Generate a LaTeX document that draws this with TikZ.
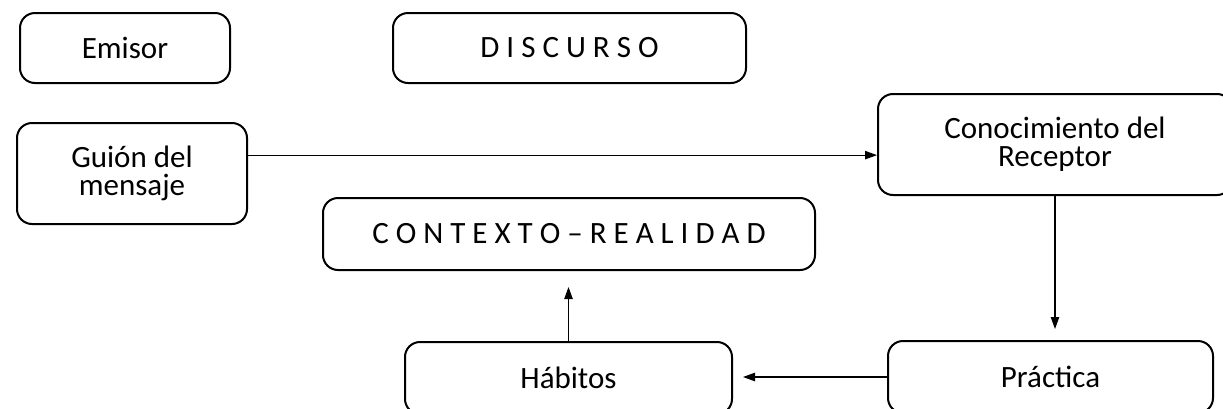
\documentclass[tikz,border=0pt]{standalone}
\usepackage{fontspec}
\setmainfont{Carlito}
\usetikzlibrary{arrows.meta}

\begin{document}
\begin{tikzpicture}[x=0.5pt, y=-0.5pt,
	box/.style={draw, line width=1pt, rounded corners=7.5pt, align=center, inner sep=0pt,
		font=\fontsize{15.5}{14}\selectfont},
	link/.style={line width=0.6pt, -{Triangle[length=6pt, width=4.2pt]}}]
	\useasboundingbox (0,0) rectangle (1223,408);
	\coordinate (pe) at (125,48); \coordinate (pd) at (569.5,48); \coordinate (pg) at (132,173.5);
	\coordinate (pc) at (1055,144.5); \coordinate (px) at (569,234); \coordinate (ph) at (568.5,378); \coordinate (pp) at (1050.5,377);
	\node[box, minimum width=105pt, minimum height=35pt] (emisor) at (pe) {Emisor};
	\node[box, minimum width=176.5pt, minimum height=35pt] (discurso) at (pd) {D I S C U R S O};
	\node[box, minimum width=115pt, minimum height=50.5pt] (guion) at (pg) {Guión del\\mensaje};
	\node[box, minimum width=177pt, minimum height=50.5pt] (conoc) at (pc) {Conocimiento del\\Receptor};
	\node[box, minimum width=246pt, minimum height=36pt] (contexto) at (px) {C O N T E X T O – R E A L I D A D};
	\node[box, minimum width=163.5pt, minimum height=36pt] (habitos) at (ph) {Hábitos};
	\node[box, minimum width=162.5pt, minimum height=36pt] (practica) at (pp) {Práctica};
	\draw[link] (guion.9) -- (guion.9 -| conoc.west);
	\draw[link, shorten >=5.5pt] (conoc.south) -- (conoc.south |- practica.north);
	\draw[link, shorten >=5pt] (practica.west) -- (practica.west -| habitos.east);
	\draw[link, shorten >=8pt] (habitos.north) -- (habitos.north |- contexto.south);
\end{tikzpicture}
\end{document}
